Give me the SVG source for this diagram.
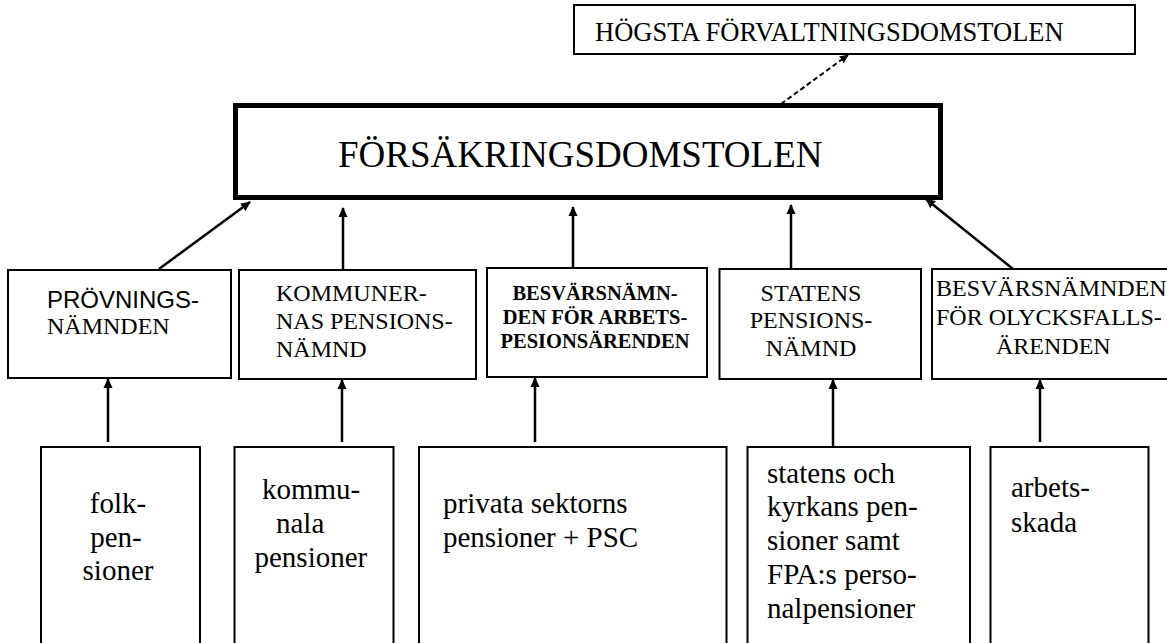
<svg xmlns="http://www.w3.org/2000/svg" width="1167" height="643" viewBox="0 0 1167 643">
<style>
.box{fill:#fff;stroke:#000;stroke-width:2}
.main{fill:#fff;stroke:#000;stroke-width:5}
.serif{font-family:"Liberation Serif","Times New Roman",serif;fill:#000}
.sans{font-family:"Liberation Sans",Arial,sans-serif;fill:#000}
.mid{font-size:24px}
.low{font-size:29px}
.conn{stroke:#000;stroke-width:2.5;fill:none;marker-end:url(#ah)}
.dash{stroke:#000;stroke-width:2;fill:none;stroke-dasharray:5 3;marker-end:url(#ah2)}
</style>
<defs>
<marker id="ah" markerUnits="userSpaceOnUse" markerWidth="10" markerHeight="10" viewBox="0 0 10 10" refX="9" refY="5" orient="auto">
<path d="M0,0.5 L10,5 L0,9.5 z" fill="#000"/>
</marker>
<marker id="ah2" markerUnits="userSpaceOnUse" markerWidth="9" markerHeight="9" viewBox="0 0 10 10" refX="9" refY="5" orient="auto">
<path d="M0,0.5 L10,5 L0,9.5 z" fill="#000"/>
</marker>
</defs>
<rect width="1167" height="643" fill="#fff"/>

<g id="hogsta">
<rect class="box" x="574" y="5" width="561" height="49"/>
<text class="serif" x="595" y="41" font-size="26.5">HÖGSTA FÖRVALTNINGSDOMSTOLEN</text>
</g>

<g id="forsakringsdomstolen">
<rect class="main" x="235.5" y="105.5" width="705" height="92"/>
<text class="serif" x="338" y="167" font-size="37">FÖRSÄKRINGSDOMSTOLEN</text>
</g>

<g id="provningsnamnden">
<rect class="box" x="8" y="270" width="223" height="108"/>
<text class="sans mid" x="47" y="308">PRÖVNINGS-</text>
<text class="serif mid" x="47" y="334">NÄMNDEN</text>
</g>

<g id="kommunernas">
<rect class="box" x="239" y="270" width="237" height="109"/>
<text class="serif mid" x="276" y="301">KOMMUNER-</text>
<text class="serif mid" x="276" y="329">NAS PENSIONS-</text>
<text class="serif mid" x="276" y="357">NÄMND</text>
</g>

<g id="besvarsnamnden-arbets">
<rect class="box" x="487" y="268" width="220" height="109"/>
<text class="serif" font-size="20.5" font-weight="bold" text-anchor="middle" x="595" y="300">BESVÄRSNÄMN-</text>
<text class="serif" font-size="20.5" font-weight="bold" text-anchor="middle" x="595" y="324">DEN FÖR ARBETS-</text>
<text class="serif" font-size="20.5" font-weight="bold" text-anchor="middle" x="595" y="348">PESIONSÄRENDEN</text>
</g>

<g id="statens">
<rect class="box" x="719.5" y="269" width="201.5" height="110"/>
<text class="serif mid" text-anchor="middle" x="811" y="301">STATENS</text>
<text class="serif mid" text-anchor="middle" x="811" y="328">PENSIONS-</text>
<text class="serif mid" text-anchor="middle" x="811" y="356">NÄMND</text>
</g>

<g id="besvarsnamnden-olycksfalls">
<rect class="box" x="932" y="269" width="240" height="110"/>
<text class="serif mid" x="936" y="296">BESVÄRSNÄMNDEN</text>
<text class="serif mid" x="936" y="325">FÖR OLYCKSFALLS-</text>
<text class="serif mid" x="996" y="354">ÄRENDEN</text>
</g>

<g id="folkpensioner">
<rect class="box" x="41" y="447" width="159" height="200"/>
<text class="serif low" text-anchor="middle" x="118" y="513">folk-</text>
<text class="serif low" text-anchor="middle" x="116" y="547">pen-</text>
<text class="serif low" text-anchor="middle" x="118" y="580">sioner</text>
</g>

<g id="kommunala">
<rect class="box" x="234.5" y="447" width="159" height="200"/>
<text class="serif low" x="262" y="499">kommu-</text>
<text class="serif low" x="276" y="533">nala</text>
<text class="serif low" x="254.5" y="567">pensioner</text>
</g>

<g id="privata">
<rect class="box" x="419" y="447" width="307.5" height="200"/>
<text class="serif low" x="443" y="513">privata sektorns</text>
<text class="serif low" x="443" y="547">pensioner + PSC</text>
</g>

<g id="statens-kyrkans">
<rect class="box" x="747.5" y="447" width="222.5" height="200"/>
<text class="serif low" x="767" y="483">statens och</text>
<text class="serif low" x="767" y="516">kyrkans pen-</text>
<text class="serif low" x="767" y="550">sioner samt</text>
<text class="serif low" x="767" y="584">FPA:s perso-</text>
<text class="serif low" x="767" y="618">nalpensioner</text>
</g>

<g id="arbetsskada">
<rect class="box" x="990.5" y="447" width="158" height="200"/>
<text class="serif low" x="1011" y="497">arbets-</text>
<text class="serif low" x="1011" y="532">skada</text>
</g>

<g id="connectors">
<line class="dash" x1="781" y1="104" x2="848" y2="55"/>
<line class="conn" x1="159" y1="269" x2="250" y2="202"/>
<line class="conn" x1="343" y1="269" x2="343" y2="208"/>
<line class="conn" x1="573" y1="268" x2="573" y2="207"/>
<line class="conn" x1="791" y1="269" x2="791" y2="205"/>
<line class="conn" x1="1013" y1="269" x2="926" y2="199"/>
<line class="conn" x1="108" y1="442" x2="108" y2="379"/>
<line class="conn" x1="342" y1="442" x2="342" y2="380"/>
<line class="conn" x1="535" y1="442" x2="535" y2="378"/>
<line class="conn" x1="833" y1="447" x2="833" y2="380"/>
<line class="conn" x1="1040" y1="442" x2="1040" y2="380"/>
</g>
</svg>
